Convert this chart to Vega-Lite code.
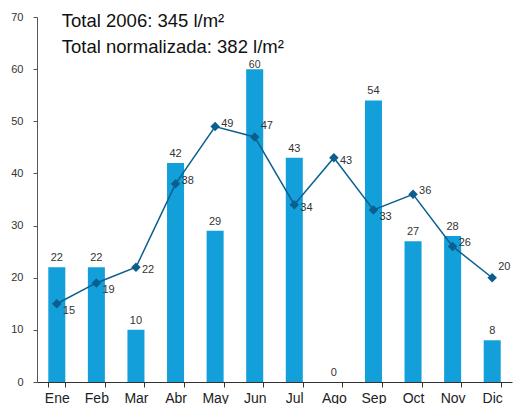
{
  "$schema": "https://vega.github.io/schema/vega-lite/v6.json",
  "width": 475,
  "height": 365,
  "autosize": "none",
  "padding": {"left": 37, "top": 17, "right": 3, "bottom": 22},
  "background": "white",
  "config": {"view": {"stroke": null}, "font": "Liberation Sans"},
  "data": {"values": [
    {"mes": "Ene", "lluvia": 22, "normal": 15},
    {"mes": "Feb", "lluvia": 22, "normal": 19},
    {"mes": "Mar", "lluvia": 10, "normal": 22},
    {"mes": "Abr", "lluvia": 42, "normal": 38},
    {"mes": "May", "lluvia": 29, "normal": 49},
    {"mes": "Jun", "lluvia": 60, "normal": 47},
    {"mes": "Jul", "lluvia": 43, "normal": 34},
    {"mes": "Ago", "lluvia": 0, "normal": 43},
    {"mes": "Sep", "lluvia": 54, "normal": 33},
    {"mes": "Oct", "lluvia": 27, "normal": 36},
    {"mes": "Nov", "lluvia": 28, "normal": 26},
    {"mes": "Dic", "lluvia": 8, "normal": 20}
  ]},
  "encoding": {
    "x": {"field": "mes", "type": "nominal", "sort": null,
      "scale": {"paddingInner": 0.57, "paddingOuter": 0.285},
      "axis": {"title": null, "labelAngle": 0, "labelFontSize": 14, "labelColor": "#222", "labelPadding": 4,
        "domainColor": "#333", "tickColor": "#333", "tickBand": "extent", "tickSize": 5, "grid": false}}
  },
  "layer": [
    {
      "mark": {"type": "bar", "color": "#139FDA"},
      "encoding": {
        "y": {"field": "lluvia", "type": "quantitative",
          "scale": {"domain": [0, 70]},
          "axis": {"title": null, "values": [0,10,20,30,40,50,60,70], "grid": false, "labelFontSize": 11, "labelColor": "#333",
            "domainColor": "#555", "tickColor": "#555", "tickSize": 4, "labelPadding": 10}}
      }
    },
    {
      "transform": [{"filter": {"not": {"field": "mes", "equal": "Jun"}}}],
      "mark": {"type": "text", "fontSize": 11, "color": "#333", "dy": -4, "baseline": "bottom"},
      "encoding": {
        "y": {"field": "lluvia", "type": "quantitative"},
        "text": {"field": "lluvia", "type": "quantitative"}
      }
    },
    {
      "transform": [{"filter": {"field": "mes", "equal": "Jun"}}],
      "mark": {"type": "text", "fontSize": 10.5, "color": "#333", "dy": -1, "baseline": "alphabetic"},
      "encoding": {
        "y": {"field": "lluvia", "type": "quantitative"},
        "text": {"field": "lluvia", "type": "quantitative"}
      }
    },
    {
      "mark": {"type": "line", "color": "#0B5F8E", "strokeWidth": 1.5},
      "encoding": {"y": {"field": "normal", "type": "quantitative"}}
    },
    {
      "mark": {"type": "point", "shape": "diamond", "filled": true, "size": 90, "color": "#0B5F8E", "opacity": 1},
      "encoding": {"y": {"field": "normal", "type": "quantitative"}}
    },
    {
      "transform": [{"filter": {"field": "mes", "oneOf": ["Ene", "Feb", "Sep"]}}],
      "mark": {"type": "text", "fontSize": 11, "color": "#333", "align": "left", "baseline": "middle", "dx": 6, "dy": 7},
      "encoding": {
        "y": {"field": "normal", "type": "quantitative"},
        "text": {"field": "normal", "type": "quantitative"}
      }
    },
    {
      "transform": [{"filter": {"field": "mes", "oneOf": ["Mar", "Jul", "Ago"]}}],
      "mark": {"type": "text", "fontSize": 11, "color": "#333", "align": "left", "baseline": "middle", "dx": 6, "dy": 3},
      "encoding": {
        "y": {"field": "normal", "type": "quantitative"},
        "text": {"field": "normal", "type": "quantitative"}
      }
    },
    {
      "transform": [{"filter": {"field": "mes", "oneOf": ["Abr", "Nov", "Oct", "May"]}}],
      "mark": {"type": "text", "fontSize": 11, "color": "#333", "align": "left", "baseline": "middle", "dx": 6, "dy": -3},
      "encoding": {
        "y": {"field": "normal", "type": "quantitative"},
        "text": {"field": "normal", "type": "quantitative"}
      }
    },
    {
      "transform": [{"filter": {"field": "mes", "oneOf": ["Jun", "Dic"]}}],
      "mark": {"type": "text", "fontSize": 11, "color": "#333", "align": "left", "baseline": "middle", "dx": 6, "dy": -11},
      "encoding": {
        "y": {"field": "normal", "type": "quantitative"},
        "text": {"field": "normal", "type": "quantitative"}
      }
    },
    {
      "data": {"values": [
        {"mes": "Ene", "yv": 68.1, "label": "Total 2006: 345 l/m²"},
        {"mes": "Ene", "yv": 63.1, "label": "Total normalizada: 382 l/m²"}
      ]},
      "mark": {"type": "text", "fontSize": 18.5, "color": "#111", "align": "left", "baseline": "alphabetic", "dx": 5},
      "encoding": {
        "x": {"field": "mes", "type": "nominal"},
        "y": {"field": "yv", "type": "quantitative"},
        "text": {"field": "label"}
      }
    }
  ]
}
